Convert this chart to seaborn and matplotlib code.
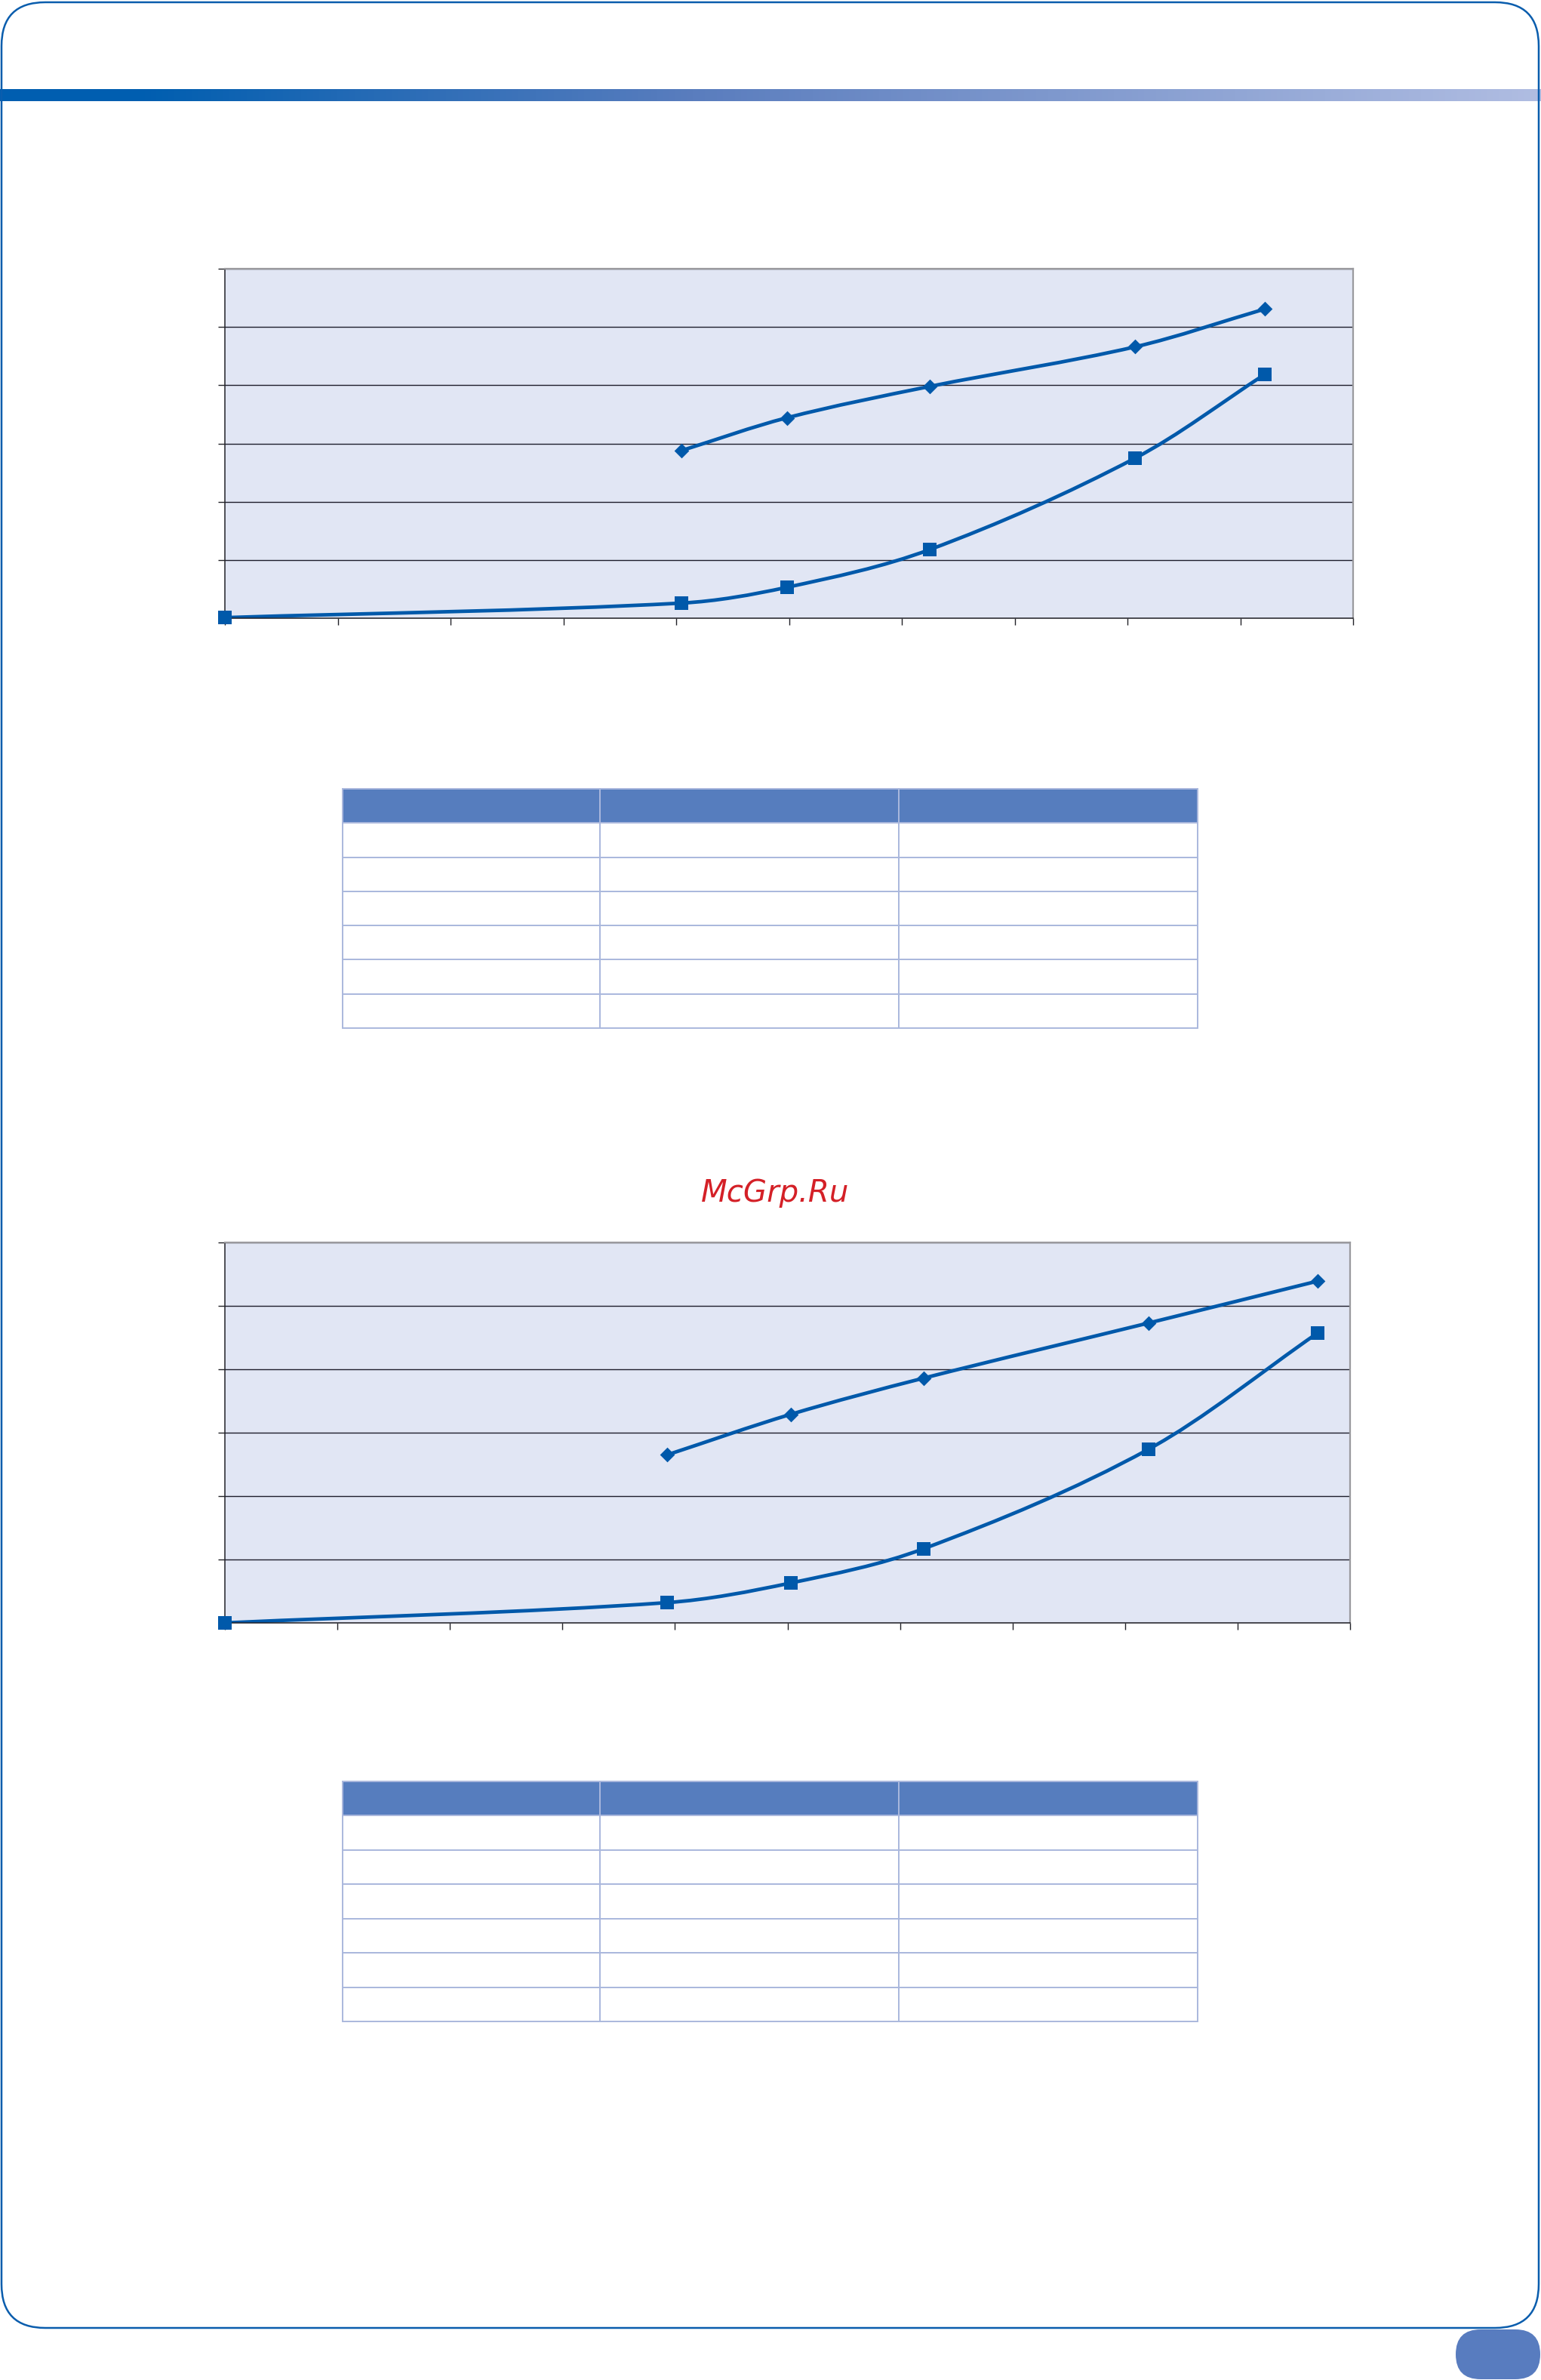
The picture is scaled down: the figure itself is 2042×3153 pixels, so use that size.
import numpy as np
import matplotlib
matplotlib.use("Agg")
import matplotlib.pyplot as plt
from matplotlib.path import Path
from matplotlib.patches import PathPatch, FancyBboxPatch
from matplotlib.colors import LinearSegmentedColormap
import seaborn as sns

sns.set_style("white")
plt.rcParams["font.family"] = ["DejaVu Sans"]

# ---------------- data ----------------
x_ticks = [0, 10, 20, 30, 40, 50, 60, 70, 80, 90, 100]
y_ticks = [0, 10, 20, 30, 40, 50, 60]

chart1_x_diamond = [40.5, 49.8, 62.5, 80.7, 92.2]
chart1_y_diamond = [28.8, 34.4, 39.8, 46.6, 53.1]
chart1_x_square = [0, 40.5, 49.8, 62.5, 80.7, 92.2]
chart1_y_square = [0.1, 2.6, 5.3, 11.8, 27.5, 41.9]

chart2_x_diamond = [39.3, 50.3, 62.1, 82.1, 97.1]
chart2_y_diamond = [26.5, 32.9, 38.6, 47.3, 53.9]
chart2_x_square = [0, 39.3, 50.3, 62.1, 82.1, 97.1]
chart2_y_square = [0, 3.2, 6.3, 11.7, 27.4, 45.7]

table_header = ["", "", ""]
table1_cells = [["", "", ""] for _ in range(6)]
table2_cells = [["", "", ""] for _ in range(6)]
table_col_widths = [341, 396, 396]

watermark = "McGrp.Ru"

# ---------------- style ----------------
W, H = 2042, 3153
DPI = 100
LINE = "#0059AA"
PLOT_BG = "#E1E6F4"
HEADER = "#567DBE"
TABLE_EDGE = "#AAB8DD"

fig = plt.figure(figsize=(W / DPI, H / DPI), dpi=DPI)
fig.patch.set_facecolor("white")


def px_rect(x0, y0, x1, y1):
    return [x0 / W, 1 - y1 / H, (x1 - x0) / W, (y1 - y0) / H]


# background / page decoration axes in pixel coordinates
bg = fig.add_axes([0, 0, 1, 1])
bg.set_xlim(0, W)
bg.set_ylim(H, 0)
bg.axis("off")

grad_cmap = LinearSegmentedColormap.from_list(
    "bar", [(0.0, "#005EB0"), (0.09, "#005EB0"), (0.45, "#5A7DBE"), (1.0, "#B0BDE2")]
)
bg.imshow(np.linspace(0, 1, 512)[None, :], cmap=grad_cmap, aspect="auto",
          extent=[0, W, 134, 118], zorder=1)

frame = FancyBboxPatch((2, 3), 2037, 3081, boxstyle="round,pad=0,rounding_size=58",
                       fill=False, edgecolor="#0A5DAD", lw=1.8, zorder=2)
bg.add_patch(frame)
badge = FancyBboxPatch((1929, 3086), 112, 66, boxstyle="round,pad=0,rounding_size=33",
                       facecolor="#587CBF", edgecolor="none", zorder=2)
bg.add_patch(badge)

bg.text(1027, 1592, watermark, ha="center", va="baseline", fontsize=29,
        style="italic", color="#D42027", zorder=3)


def smooth_path(xs, ys):
    """Smooth (Hermite in x) curve through the data points, as cubic Beziers."""
    x = np.asarray(xs, float)
    y = np.asarray(ys, float)
    n = len(x)
    m = np.empty(n)
    m[0] = (y[1] - y[0]) / (x[1] - x[0])
    m[-1] = (y[-1] - y[-2]) / (x[-1] - x[-2])
    for i in range(1, n - 1):
        m[i] = (y[i + 1] - y[i - 1]) / (x[i + 1] - x[i - 1])
    verts = [(x[0], y[0])]
    codes = [Path.MOVETO]
    for i in range(n - 1):
        h = x[i + 1] - x[i]
        verts += [(x[i] + h / 3, y[i] + m[i] * h / 3),
                  (x[i + 1] - h / 3, y[i + 1] - m[i + 1] * h / 3),
                  (x[i + 1], y[i + 1])]
        codes += [Path.CURVE4] * 3
    return Path(verts, codes)


def draw_chart(rect, xd, yd, xs, ys):
    ax = fig.add_axes(rect)
    ax.set_facecolor(PLOT_BG)
    for x, y in [(xd, yd), (xs, ys)]:
        ax.add_patch(PathPatch(smooth_path(x, y), fill=False, edgecolor=LINE,
                               lw=3.4, capstyle="round", joinstyle="round", zorder=2))
    sns.scatterplot(x=xd, y=yd, marker="D", s=100, color=LINE, linewidth=0,
                    ax=ax, zorder=3, clip_on=False, legend=False)
    sns.scatterplot(x=xs, y=ys, marker="s", s=160, color=LINE, linewidth=0,
                    ax=ax, zorder=3, clip_on=False, legend=False)
    ax.set_xlim(0, 100)
    ax.set_ylim(0, 60)
    ax.set_xticks(x_ticks)
    ax.set_yticks(y_ticks)
    ax.set_xticklabels([])
    ax.set_yticklabels([])
    ax.set_xlabel("")
    ax.set_ylabel("")
    ax.yaxis.grid(True, color="#1E1E2C", lw=1.0)
    ax.xaxis.grid(False)
    ax.set_axisbelow(True)
    for side in ["top", "right"]:
        ax.spines[side].set_color("#9A9A9E")
        ax.spines[side].set_linewidth(1.6)
    for side in ["left", "bottom"]:
        ax.spines[side].set_color("#222228")
        ax.spines[side].set_linewidth(1.1)
    ax.tick_params(axis="both", direction="out", length=6.5, width=1.0,
                   color="#222228", left=True, bottom=True)
    return ax


draw_chart(px_rect(298, 356, 1793, 819), chart1_x_diamond, chart1_y_diamond,
           chart1_x_square, chart1_y_square)
draw_chart(px_rect(298, 1646, 1789, 2150), chart2_x_diamond, chart2_y_diamond,
           chart2_x_square, chart2_y_square)


def draw_table(rect, cells):
    ax = fig.add_axes(rect)
    ax.axis("off")
    total = float(sum(table_col_widths))
    tbl = ax.table(cellText=cells, colLabels=table_header,
                   colWidths=[w / total for w in table_col_widths],
                   bbox=[0, 0, 1, 1], cellLoc="center")
    for (r, c), cell in tbl.get_celld().items():
        cell.set_edgecolor(TABLE_EDGE)
        cell.set_linewidth(1.4)
        cell.set_facecolor(HEADER if r == 0 else "white")
    return ax


draw_table(px_rect(454, 1045, 1587, 1362), table1_cells)
draw_table(px_rect(454, 2360, 1587, 2678), table2_cells)

fig.savefig("out.png", dpi=DPI, facecolor="white")
